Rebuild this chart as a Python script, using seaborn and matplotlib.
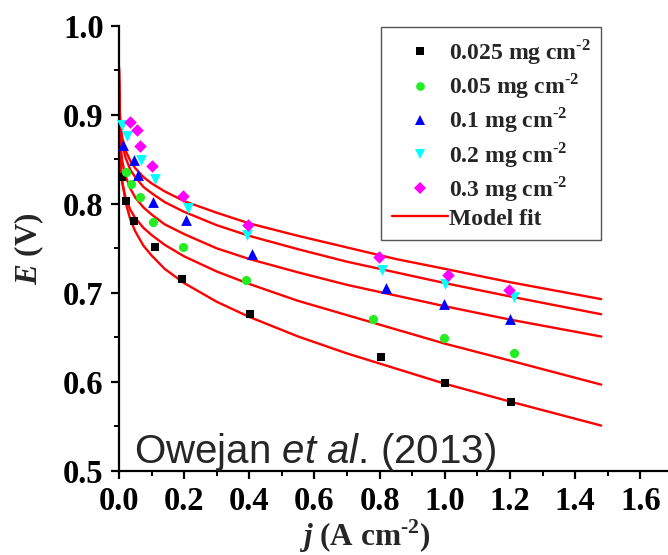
import matplotlib
matplotlib.use("Agg")
import matplotlib.pyplot as plt
import pandas as pd
import seaborn as sns
from matplotlib.lines import Line2D
from matplotlib.ticker import MultipleLocator, FormatStrFormatter

# Pt loadings (mg cm^-2)
loadings = ["0.025", "0.05", "0.1", "0.2", "0.3"]

# Measured polarization points: current density j (A cm^-2), cell voltage E (V)
j_0025 = [0.009, 0.022, 0.045, 0.110, 0.192, 0.402, 0.804, 1.000, 1.202]
E_0025 = [0.830, 0.803, 0.781, 0.751, 0.716, 0.676, 0.628, 0.599, 0.578]
j_005 = [0.021, 0.038, 0.065, 0.104, 0.197, 0.389, 0.780, 0.999, 1.212]
E_005 = [0.836, 0.822, 0.808, 0.780, 0.751, 0.714, 0.671, 0.649, 0.633]
j_01 = [0.012, 0.045, 0.058, 0.105, 0.206, 0.407, 0.821, 0.997, 1.199]
E_01 = [0.866, 0.849, 0.832, 0.802, 0.782, 0.744, 0.706, 0.688, 0.671]
j_02 = [0.009, 0.025, 0.068, 0.111, 0.211, 0.392, 0.806, 1.001, 1.213]
E_02 = [0.888, 0.876, 0.849, 0.828, 0.795, 0.765, 0.726, 0.710, 0.695]
j_03 = [0.035, 0.055, 0.065, 0.101, 0.195, 0.395, 0.798, 1.011, 1.197]
E_03 = [0.892, 0.883, 0.865, 0.842, 0.809, 0.776, 0.740, 0.720, 0.703]

# Model fit curves, sampled on a common current-density grid
fit_j = [0.0, 0.002, 0.005, 0.01, 0.02, 0.035, 0.05, 0.075, 0.1, 0.14, 0.2,
         0.3, 0.4, 0.55, 0.7, 0.85, 1.0, 1.2, 1.48]
fit_0025 = [0.925, 0.874, 0.848, 0.826, 0.802, 0.782, 0.769, 0.753, 0.742,
            0.727, 0.711, 0.690, 0.673, 0.651, 0.632, 0.615, 0.598, 0.578, 0.551]
fit_005 = [0.935, 0.859, 0.839, 0.823, 0.807, 0.793, 0.784, 0.773, 0.765,
           0.754, 0.741, 0.724, 0.710, 0.691, 0.675, 0.659, 0.643, 0.624, 0.597]
fit_01 = [0.949, 0.886, 0.865, 0.848, 0.831, 0.817, 0.807, 0.796, 0.788,
          0.777, 0.766, 0.750, 0.738, 0.723, 0.709, 0.697, 0.685, 0.670, 0.651]
fit_02 = [0.952, 0.902, 0.883, 0.867, 0.852, 0.838, 0.830, 0.819, 0.812,
          0.802, 0.791, 0.776, 0.764, 0.749, 0.735, 0.723, 0.711, 0.696, 0.676]
fit_03 = [0.954, 0.906, 0.888, 0.874, 0.860, 0.848, 0.840, 0.830, 0.823,
          0.814, 0.803, 0.790, 0.778, 0.764, 0.751, 0.738, 0.727, 0.712, 0.693]

points = {"0.025": (j_0025, E_0025), "0.05": (j_005, E_005), "0.1": (j_01, E_01),
          "0.2": (j_02, E_02), "0.3": (j_03, E_03)}
fits = {"0.025": fit_0025, "0.05": fit_005, "0.1": fit_01,
        "0.2": fit_02, "0.3": fit_03}

pts_df = pd.concat([pd.DataFrame({"j": v[0], "E": v[1], "loading": k})
                    for k, v in points.items()], ignore_index=True)
fit_df = pd.concat([pd.DataFrame({"j": fit_j, "E": v, "loading": k})
                    for k, v in fits.items()], ignore_index=True)

colors = {"0.025": "#000000", "0.05": "#22EE22", "0.1": "#0000FF",
          "0.2": "#00FFFF", "0.3": "#FF00FF"}
markers = {"0.025": "s", "0.05": "o", "0.1": "^", "0.2": "v", "0.3": "D"}
msizes = {"0.025": 6.2, "0.05": 6.6, "0.1": 7.8, "0.2": 7.8, "0.3": 6.4}

sns.set_theme(style="ticks")
plt.rcParams.update({
    "font.family": ["Liberation Serif", "DejaVu Sans"],
    "font.weight": "bold",
    "mathtext.fontset": "custom",
    "mathtext.rm": "Liberation Serif:bold",
    "mathtext.bf": "Liberation Serif:bold",
    "mathtext.it": "Liberation Sans:style=italic:weight=normal",
    "mathtext.bfit": "Liberation Serif:italic:bold",
    "axes.edgecolor": "black",
    "xtick.color": "black",
    "ytick.color": "black",
})

fig = plt.figure(figsize=(6.68, 5.55), dpi=100)
ax = fig.add_axes([119 / 668, 84 / 555, 549 / 668, 445.3 / 555])

sns.lineplot(data=fit_df, x="j", y="E", units="loading", estimator=None,
             sort=False, color="#FF0000", linewidth=1.7, ax=ax, legend=False)

for k in loadings:
    sub = pts_df[pts_df["loading"] == k]
    sns.scatterplot(data=sub, x="j", y="E", marker=markers[k], color=colors[k],
                    s=msizes[k] ** 2, linewidth=0, ax=ax, legend=False,
                    zorder=3, clip_on=False)

ax.set_xlim(0, 1.685)
ax.set_ylim(0.5, 1.0)
ax.xaxis.set_major_locator(MultipleLocator(0.2))
ax.xaxis.set_minor_locator(MultipleLocator(0.1))
ax.yaxis.set_major_locator(MultipleLocator(0.1))
ax.yaxis.set_minor_locator(MultipleLocator(0.05))
ax.xaxis.set_major_formatter(FormatStrFormatter("%.1f"))
ax.yaxis.set_major_formatter(FormatStrFormatter("%.1f"))

for side in ("top", "right"):
    ax.spines[side].set_visible(False)
for side in ("left", "bottom"):
    ax.spines[side].set_linewidth(1.6)

ax.tick_params(which="major", direction="out", length=6, width=1.6,
               labelsize=23.5, pad=5)
ax.tick_params(which="minor", direction="out", length=3.5, width=1.4)
for lbl in ax.get_xticklabels() + ax.get_yticklabels():
    lbl.set_fontweight("bold")

hy = "\u2010"
ax.set_xlabel(f"$\\mathbfit{{j}}$ (A cm$^{{\\mathbf{{{hy}2}}}}$)", fontsize=22.5,
              fontweight="bold")
ax.set_ylabel("$\\mathbfit{E}$ (V)", fontsize=22.5, fontweight="bold")
ax.xaxis.set_label_coords(0.448, -0.105)
ax.yaxis.set_label_coords(-0.133, 0.5)

ax.text(0.046, 0.509, "Owejan $\\mathit{et\\ al}$. (2013)",
        family="Liberation Sans", fontweight="normal", fontsize=29,
        va="baseline", ha="left")

handles = [Line2D([], [], linestyle="none", marker=markers[k], color=colors[k],
                  markersize=msizes[k] * 0.95, markeredgewidth=0)
           for k in loadings]
handles.append(Line2D([], [], color="#FF0000", linewidth=1.7))
labels = [f"{k} mg cm$^{{\\mathbf{{{hy}2}}}}$" for k in loadings] + ["Model fit"]
leg = ax.legend(handles, labels, loc="upper left",
                bbox_to_anchor=(0.478, 0.997), borderaxespad=0, frameon=True,
                fancybox=False, edgecolor="#555555", framealpha=1,
                borderpad=0.45, labelspacing=0.19, handlelength=2.35,
                handletextpad=0.05,
                prop={"family": "Liberation Serif", "weight": "bold",
                      "size": 17})
leg.get_frame().set_linewidth(1.0)

fig.savefig("out.png", dpi=100)
